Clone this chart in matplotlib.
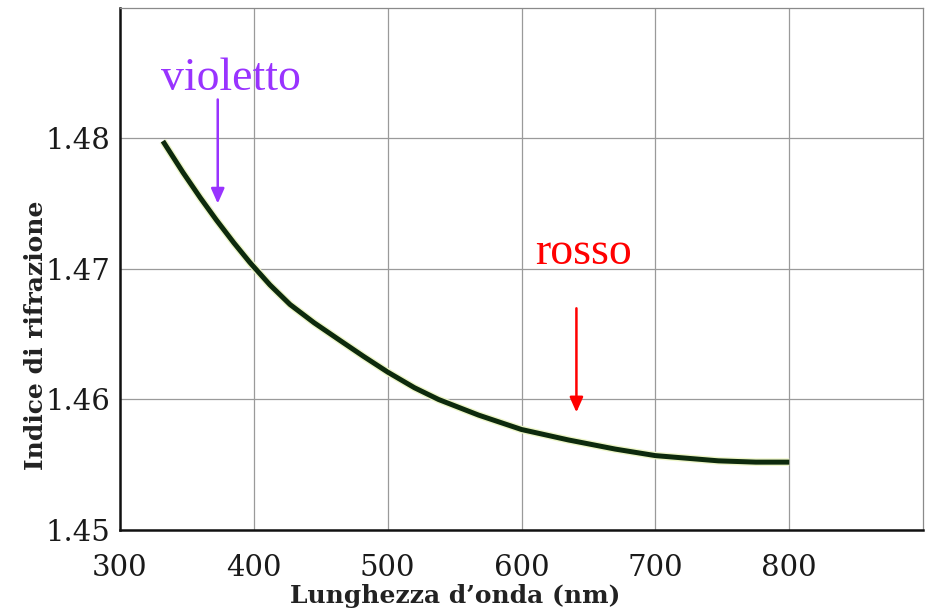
import numpy as np
import matplotlib
matplotlib.use('Agg')
import matplotlib.pyplot as plt
import matplotlib.patheffects as pe

# values
wavelength = [332, 347, 360, 372, 385, 397, 412, 427, 445, 464, 482, 500,
              520, 538, 568, 600, 635, 670, 700, 747, 775, 800]
index = [1.4798, 1.4774, 1.47545, 1.47375, 1.47201, 1.4705, 1.46878, 1.46728,
         1.46588, 1.46455, 1.4633, 1.4621, 1.4609, 1.4600, 1.4588, 1.4577,
         1.4569, 1.4562, 1.4557, 1.4553, 1.4552, 1.4552]
x_ticks = [300, 400, 500, 600, 700, 800]
y_ticks = [1.45, 1.46, 1.47, 1.48]
y_tick_labels = ['1.45', '1.46', '1.47', '1.48']

fig = plt.figure(figsize=(9.32, 6.13), dpi=100)
ax = fig.add_axes([0.1288, 0.1354, 0.8616, 0.8516])

ax.plot(wavelength, index, color='#0d2a0d', linewidth=3.6,
        solid_capstyle='butt', solid_joinstyle='round', zorder=3,
        path_effects=[pe.Stroke(linewidth=5.5, foreground='#eef6c8'), pe.Normal()])

ax.set_xlim(300, 900)
ax.set_ylim(1.45, 1.49)
ax.set_xticks(x_ticks)
ax.set_yticks(y_ticks)
ax.set_yticklabels(y_tick_labels)
ax.grid(True, color='#9a9a9a', linewidth=0.9)
ax.tick_params(length=0, labelsize=21)
ax.tick_params(axis='x', pad=17)
ax.tick_params(axis='y', pad=7)
for lab in ax.get_xticklabels() + ax.get_yticklabels():
    lab.set_family('DejaVu Serif')
    lab.set_color('#1a1a1a')

for s in ['left', 'bottom']:
    ax.spines[s].set_linewidth(1.8)
    ax.spines[s].set_color('#111111')
for s in ['top', 'right']:
    ax.spines[s].set_linewidth(0.9)
    ax.spines[s].set_color('#8a8a8a')

ax.set_xlabel("Lunghezza d\u2019onda (nm)", family='DejaVu Serif',
              fontweight='bold', fontsize=18, color='#222222')
ax.set_ylabel('Indice di rifrazione', family='DejaVu Serif',
              fontweight='bold', fontsize=18, color='#222222')
ax.xaxis.set_label_coords(0.417, -0.103)
ax.yaxis.set_label_coords(-0.09, 0.374)

# colour labels with arrows
ax.text(383, 1.4837, 'violetto', color='#9933ff', fontsize=33,
        family='Liberation Serif', ha='center', va='baseline')
ax.annotate('', xy=(373, 1.4748), xytext=(373, 1.4832),
            arrowprops=dict(arrowstyle='-|>,head_length=0.9,head_width=0.4',
                            color='#9933ff', lw=1.8))
ax.text(646, 1.4704, 'rosso', color='#ff0000', fontsize=33,
        family='Liberation Serif', ha='center', va='baseline')
ax.annotate('', xy=(641, 1.4588), xytext=(641, 1.4672),
            arrowprops=dict(arrowstyle='-|>,head_length=0.9,head_width=0.4',
                            color='#ff0000', lw=1.8))

fig.savefig('out.png', dpi=100)
